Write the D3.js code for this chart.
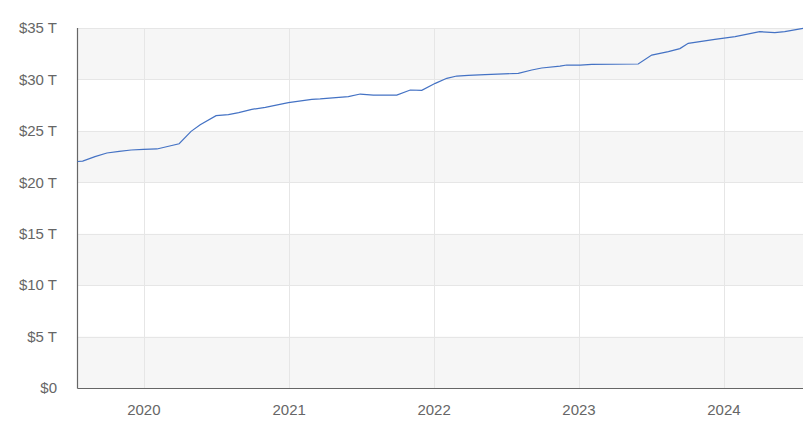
<!DOCTYPE html>
<html>
<head>
<meta charset="utf-8">
<script src="https://cdn.jsdelivr.net/npm/d3@7"></script>
<style>
  html, body { margin: 0; padding: 0; background: #fff; }
  svg { display: block; }
  text { font-family: "Liberation Sans", Arial, sans-serif; }
</style>
</head>
<body>
<svg id="chart" width="807" height="424"></svg>
<script>
// Data (trillions of dollars)
const dates = [
  "2019-07-18","2019-07-31","2019-08-31","2019-09-30","2019-10-31","2019-11-30","2019-12-31",
  "2020-02-03","2020-03-30","2020-04-29","2020-05-22","2020-07-01","2020-08-01","2020-08-27",
  "2020-09-29","2020-11-02","2020-12-30","2021-02-27","2021-03-20","2021-05-30","2021-06-29",
  "2021-08-01","2021-09-29","2021-11-02","2021-12-01","2022-01-04","2022-02-02","2022-02-27",
  "2022-03-28","2022-05-09","2022-08-01","2022-09-04","2022-09-29","2022-11-14","2022-12-01",
  "2023-01-04","2023-02-02","2023-05-30","2023-07-03","2023-08-14","2023-09-12","2023-10-03",
  "2023-12-09","2024-01-29","2024-03-31","2024-05-08","2024-06-02","2024-07-18"
];
const debtValues = [
  22.02, 22.06, 22.5, 22.85, 23.0, 23.14, 23.2,
  23.24, 23.75, 24.95, 25.6, 26.48, 26.58, 26.77,
  27.09, 27.29, 27.74, 28.06, 28.1, 28.32, 28.58,
  28.48, 28.48, 28.97, 28.94, 29.62, 30.11, 30.33,
  30.4, 30.46, 30.59, 30.92, 31.11, 31.3, 31.4,
  31.4, 31.47, 31.5, 32.37, 32.7, 33.0, 33.51,
  33.9, 34.16, 34.64, 34.55, 34.64, 34.97
];
const yTicks = [0, 5, 10, 15, 20, 25, 30, 35];
const yTickLabels = ["$0", "$5 T", "$10 T", "$15 T", "$20 T", "$25 T", "$30 T", "$35 T"];
const xTickYears = ["2020", "2021", "2022", "2023", "2024"];

const parse = d3.timeParse("%Y-%m-%d");
const data = dates.map((d, i) => ({ date: parse(d), value: debtValues[i] }));

const svg = d3.select("#chart");
const plotL = 77.5, plotR = 803, plotT = 28, plotB = 388;

const x = d3.scaleTime().domain(d3.extent(data, d => d.date)).range([plotL, plotR]);
const y = d3.scaleLinear().domain([0, 35]).range([plotB, plotT]);

// Alternating bands
const bands = [];
for (let i = 0; i < yTicks.length - 1; i++) {
  if (i % 2 === 0) bands.push([yTicks[i], yTicks[i + 1]]);
}
svg.append("g").selectAll("rect").data(bands).join("rect")
  .attr("x", plotL).attr("width", plotR - plotL)
  .attr("y", d => y(d[1])).attr("height", d => y(d[0]) - y(d[1]))
  .attr("fill", "#f6f6f6");

// Horizontal gridlines
svg.append("g").selectAll("line").data(yTicks.filter(t => t > 0)).join("line")
  .attr("x1", plotL).attr("x2", plotR)
  .attr("y1", d => Math.round(y(d)) + 0.5).attr("y2", d => Math.round(y(d)) + 0.5)
  .attr("stroke", "#e6e6e6").attr("stroke-width", 1);

// Vertical gridlines
const xTickDates = xTickYears.map(yr => parse(yr + "-01-01"));
svg.append("g").selectAll("line").data(xTickDates).join("line")
  .attr("x1", d => Math.round(x(d)) + 0.5).attr("x2", d => Math.round(x(d)) + 0.5)
  .attr("y1", plotT).attr("y2", plotB)
  .attr("stroke", "#e6e6e6").attr("stroke-width", 1);

// Axis lines
svg.append("line").attr("x1", plotL).attr("x2", plotL).attr("y1", plotT).attr("y2", plotB + 0.5)
  .attr("stroke", "#666").attr("stroke-width", 1.2);
svg.append("line").attr("x1", plotL).attr("x2", plotR).attr("y1", plotB + 0.5).attr("y2", plotB + 0.5)
  .attr("stroke", "#666").attr("stroke-width", 1.2);

// Y labels
svg.append("g").selectAll("text").data(yTicks).join("text")
  .attr("x", 57).attr("y", d => y(d)).attr("dy", "0.35em")
  .attr("text-anchor", "end").attr("font-size", 15).attr("fill", "#666")
  .text((d, i) => yTickLabels[i]);

// X labels
svg.append("g").selectAll("text").data(xTickDates).join("text")
  .attr("x", d => x(d)).attr("y", 415)
  .attr("text-anchor", "middle").attr("font-size", 15).attr("fill", "#666")
  .text((d, i) => xTickYears[i]);

// Line
const line = d3.line().x(d => x(d.date)).y(d => y(d.value));
svg.append("path").datum(data)
  .attr("d", line).attr("fill", "none")
  .attr("stroke", "#4472c4").attr("stroke-width", 1.2);
</script>
</body>
</html>
